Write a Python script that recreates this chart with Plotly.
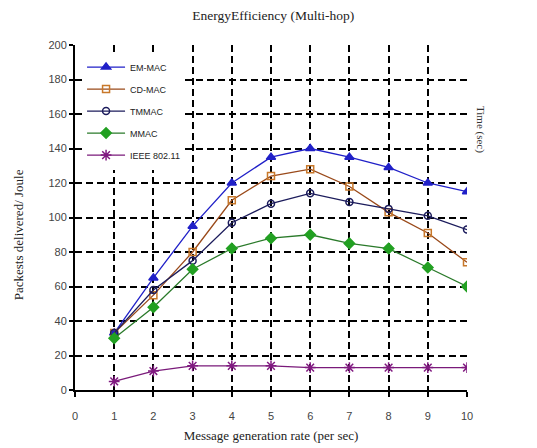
import plotly.graph_objects as go

x_rate = [1, 2, 3, 4, 5, 6, 7, 8, 9, 10]
em_mac = [33, 65, 95, 120, 135, 140, 135, 129, 120, 115]
cd_mac = [33, 55, 80, 110, 124, 128, 118, 103, 91, 74]
tmmac = [33, 58, 75, 97, 108, 114, 109, 105, 101, 93]
mmac = [30, 48, 70, 82, 88, 90, 85, 82, 71, 60]
ieee = [5, 11, 14, 14, 14, 13, 13, 13, 13, 13]

x_ticks = [0, 1, 2, 3, 4, 5, 6, 7, 8, 9, 10]
y_ticks = [0, 20, 40, 60, 80, 100, 120, 140, 160, 180, 200]

series = [
    ("EM-MAC", em_mac, "#2020c8", "triangle-up", "#2020c8", 8),
    ("CD-MAC", cd_mac, "#9a4a1a", "square-open", "#c8782a", 7),
    ("TMMAC", tmmac, "#1c1c5c", "circle-open", "#1c1c5c", 7),
    ("MMAC", mmac, "#2a7a2a", "diamond", "#22a022", 8),
    ("IEEE 802.11", ieee, "#7a1a7a", "asterisk-open", "#801a80", 9),
]

fig = go.Figure()
for name, vals, lc, sym, mc, ms in series:
    fig.add_trace(go.Scatter(
        x=x_rate, y=vals, name=name, mode="lines+markers", legendgroup=name,
        line=dict(color=lc, width=1.3),
        marker=dict(symbol=sym, color=mc, size=ms,
                    line=dict(color=mc, width=1.5)),
    ))

fig.update_layout(
    width=537, height=448,
    margin=dict(l=67, r=78, t=37, b=66),
    paper_bgcolor="white", plot_bgcolor="white",
    title=dict(text="EnergyEfficiency (Multi-hop)", x=0.494, xanchor="center",
               y=0.995, yanchor="top",
               font=dict(family="Liberation Serif", size=13.5, color="#222")),
    font=dict(family="Liberation Sans", size=10, color="#333"),
    showlegend=True,
    legend=dict(x=0.018, y=0.978, xanchor="left", yanchor="top",
                bgcolor="white", borderwidth=0,
                font=dict(family="Liberation Sans", size=9, color="#222"),
                itemwidth=38, tracegroupgap=3),
    xaxis=dict(
        range=[0, 10.0], tickvals=x_ticks, ticktext=[str(v) for v in x_ticks],
        showline=True, linecolor="black", linewidth=2,
        ticks="outside", ticklen=5, tickwidth=1.5, tickcolor="black",
        ticklabelstandoff=10,
        showgrid=True, gridcolor="black", gridwidth=2, griddash="7px,4px",
        zeroline=False,
        title=dict(text="Message generation rate (per sec)", standoff=10,
                   font=dict(family="Liberation Serif", size=13, color="#222")),
        tickfont=dict(family="Liberation Sans", size=11, color="#444"),
    ),
    yaxis=dict(
        range=[0, 200], tickvals=y_ticks,
        showline=True, linecolor="black", linewidth=2,
        ticks="outside", ticklen=4, tickwidth=1.5, tickcolor="black",
        showgrid=True, gridcolor="black", gridwidth=2, griddash="7px,4px",
        zeroline=False,
        tickfont=dict(family="Liberation Sans", size=11, color="#444"),
    ),
)

fig.add_annotation(text="Packests delivered/ Joule", xref="paper", yref="paper",
                   x=-0.145, y=0.449, xanchor="center", yanchor="middle",
                   textangle=-90, showarrow=False,
                   font=dict(family="Liberation Serif", size=13, color="#222"))

fig.add_annotation(text="Time (sec)", xref="paper", yref="paper",
                   x=1.033, y=0.754, xanchor="center", yanchor="middle",
                   textangle=90, showarrow=False,
                   font=dict(family="Liberation Serif", size=11, color="#333"))

fig.write_html("out.html")
